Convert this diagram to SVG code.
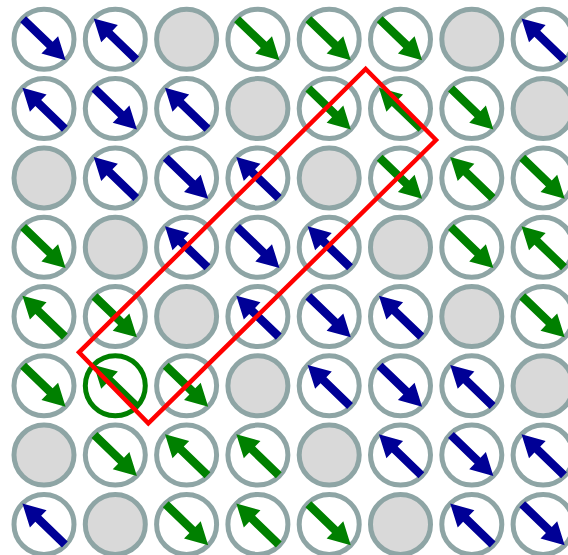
<svg xmlns="http://www.w3.org/2000/svg" xmlns:xlink="http://www.w3.org/1999/xlink" width="568" height="555" viewBox="0 0 568 555">
<style>
.c{fill:#ffffff;stroke:#8ea5a5;stroke-width:5}
.e{fill:#d9d9d9;stroke:#8ea5a5;stroke-width:5}
.h{fill:#ffffff;stroke:#008000;stroke-width:5}
.b{fill:#000096}
.g{fill:#008000}
.r{fill:none;stroke:#ff0000;stroke-width:4.5;stroke-linejoin:miter}
</style>
<defs>
<path id="a" d="M-29,-4.2 L8,-4.2 L8,-12 L30,0 L8,12 L8,4.2 L-29,4.2 Z"/>
</defs>
<rect width="568" height="555" fill="#ffffff"/>
<g id="nodes">
<!-- row 0 -->
<g id="n0_0"><circle class="c" cx="44" cy="39.3" r="30"/><use xlink:href="#a" class="b" transform="translate(44,39.3) rotate(44)"/></g>
<g id="n0_1"><circle class="c" cx="115.3" cy="39.3" r="30"/><use xlink:href="#a" class="b" transform="translate(115.3,39.3) rotate(224)"/></g>
<g id="n0_2"><circle class="e" cx="186.6" cy="39.3" r="30"/></g>
<g id="n0_3"><circle class="c" cx="257.9" cy="39.3" r="30"/><use xlink:href="#a" class="g" transform="translate(257.9,39.3) rotate(44)"/></g>
<g id="n0_4"><circle class="c" cx="329.2" cy="39.3" r="30"/><use xlink:href="#a" class="g" transform="translate(329.2,39.3) rotate(44)"/></g>
<g id="n0_5"><circle class="c" cx="400.5" cy="39.3" r="30"/><use xlink:href="#a" class="g" transform="translate(400.5,39.3) rotate(44)"/></g>
<g id="n0_6"><circle class="e" cx="471.8" cy="39.3" r="30"/></g>
<g id="n0_7"><circle class="c" cx="543.1" cy="39.3" r="30"/><use xlink:href="#a" class="b" transform="translate(543.1,39.3) rotate(224)"/></g>
<!-- row 1 -->
<g id="n1_0"><circle class="c" cx="44" cy="108.6" r="30"/><use xlink:href="#a" class="b" transform="translate(44,108.6) rotate(224)"/></g>
<g id="n1_1"><circle class="c" cx="115.3" cy="108.6" r="30"/><use xlink:href="#a" class="b" transform="translate(115.3,108.6) rotate(44)"/></g>
<g id="n1_2"><circle class="c" cx="186.6" cy="108.6" r="30"/><use xlink:href="#a" class="b" transform="translate(186.6,108.6) rotate(224)"/></g>
<g id="n1_3"><circle class="e" cx="257.9" cy="108.6" r="30"/></g>
<g id="n1_4"><circle class="c" cx="329.2" cy="108.6" r="30"/><use xlink:href="#a" class="g" transform="translate(329.2,108.6) rotate(44)"/></g>
<g id="n1_5"><circle class="c" cx="400.5" cy="108.6" r="30"/><use xlink:href="#a" class="g" transform="translate(400.5,108.6) rotate(224)"/></g>
<g id="n1_6"><circle class="c" cx="471.8" cy="108.6" r="30"/><use xlink:href="#a" class="g" transform="translate(471.8,108.6) rotate(44)"/></g>
<g id="n1_7"><circle class="e" cx="543.1" cy="108.6" r="30"/></g>
<!-- row 2 -->
<g id="n2_0"><circle class="e" cx="44" cy="177.9" r="30"/></g>
<g id="n2_1"><circle class="c" cx="115.3" cy="177.9" r="30"/><use xlink:href="#a" class="b" transform="translate(115.3,177.9) rotate(224)"/></g>
<g id="n2_2"><circle class="c" cx="186.6" cy="177.9" r="30"/><use xlink:href="#a" class="b" transform="translate(186.6,177.9) rotate(44)"/></g>
<g id="n2_3"><circle class="c" cx="257.9" cy="177.9" r="30"/><use xlink:href="#a" class="b" transform="translate(257.9,177.9) rotate(224)"/></g>
<g id="n2_4"><circle class="e" cx="329.2" cy="177.9" r="30"/></g>
<g id="n2_5"><circle class="c" cx="400.5" cy="177.9" r="30"/><use xlink:href="#a" class="g" transform="translate(400.5,177.9) rotate(44)"/></g>
<g id="n2_6"><circle class="c" cx="471.8" cy="177.9" r="30"/><use xlink:href="#a" class="g" transform="translate(471.8,177.9) rotate(224)"/></g>
<g id="n2_7"><circle class="c" cx="543.1" cy="177.9" r="30"/><use xlink:href="#a" class="g" transform="translate(543.1,177.9) rotate(44)"/></g>
<!-- row 3 -->
<g id="n3_0"><circle class="c" cx="44" cy="247.2" r="30"/><use xlink:href="#a" class="g" transform="translate(44,247.2) rotate(44)"/></g>
<g id="n3_1"><circle class="e" cx="115.3" cy="247.2" r="30"/></g>
<g id="n3_2"><circle class="c" cx="186.6" cy="247.2" r="30"/><use xlink:href="#a" class="b" transform="translate(186.6,247.2) rotate(224)"/></g>
<g id="n3_3"><circle class="c" cx="257.9" cy="247.2" r="30"/><use xlink:href="#a" class="b" transform="translate(257.9,247.2) rotate(44)"/></g>
<g id="n3_4"><circle class="c" cx="329.2" cy="247.2" r="30"/><use xlink:href="#a" class="b" transform="translate(329.2,247.2) rotate(224)"/></g>
<g id="n3_5"><circle class="e" cx="400.5" cy="247.2" r="30"/></g>
<g id="n3_6"><circle class="c" cx="471.8" cy="247.2" r="30"/><use xlink:href="#a" class="g" transform="translate(471.8,247.2) rotate(44)"/></g>
<g id="n3_7"><circle class="c" cx="543.1" cy="247.2" r="30"/><use xlink:href="#a" class="g" transform="translate(543.1,247.2) rotate(224)"/></g>
<!-- row 4 -->
<g id="n4_0"><circle class="c" cx="44" cy="316.5" r="30"/><use xlink:href="#a" class="g" transform="translate(44,316.5) rotate(224)"/></g>
<g id="n4_1"><circle class="c" cx="115.3" cy="316.5" r="30"/><use xlink:href="#a" class="g" transform="translate(115.3,316.5) rotate(44)"/></g>
<g id="n4_2"><circle class="e" cx="186.6" cy="316.5" r="30"/></g>
<g id="n4_3"><circle class="c" cx="257.9" cy="316.5" r="30"/><use xlink:href="#a" class="b" transform="translate(257.9,316.5) rotate(224)"/></g>
<g id="n4_4"><circle class="c" cx="329.2" cy="316.5" r="30"/><use xlink:href="#a" class="b" transform="translate(329.2,316.5) rotate(44)"/></g>
<g id="n4_5"><circle class="c" cx="400.5" cy="316.5" r="30"/><use xlink:href="#a" class="b" transform="translate(400.5,316.5) rotate(224)"/></g>
<g id="n4_6"><circle class="e" cx="471.8" cy="316.5" r="30"/></g>
<g id="n4_7"><circle class="c" cx="543.1" cy="316.5" r="30"/><use xlink:href="#a" class="g" transform="translate(543.1,316.5) rotate(44)"/></g>
<!-- row 5 -->
<g id="n5_0"><circle class="c" cx="44" cy="385.8" r="30"/><use xlink:href="#a" class="g" transform="translate(44,385.8) rotate(44)"/></g>
<g id="n5_1"><circle class="h" cx="115.3" cy="385.8" r="30"/><use xlink:href="#a" class="g" transform="translate(115.3,385.8) rotate(224)"/></g>
<g id="n5_2"><circle class="c" cx="186.6" cy="385.8" r="30"/><use xlink:href="#a" class="g" transform="translate(186.6,385.8) rotate(44)"/></g>
<g id="n5_3"><circle class="e" cx="257.9" cy="385.8" r="30"/></g>
<g id="n5_4"><circle class="c" cx="329.2" cy="385.8" r="30"/><use xlink:href="#a" class="b" transform="translate(329.2,385.8) rotate(224)"/></g>
<g id="n5_5"><circle class="c" cx="400.5" cy="385.8" r="30"/><use xlink:href="#a" class="b" transform="translate(400.5,385.8) rotate(44)"/></g>
<g id="n5_6"><circle class="c" cx="471.8" cy="385.8" r="30"/><use xlink:href="#a" class="b" transform="translate(471.8,385.8) rotate(224)"/></g>
<g id="n5_7"><circle class="e" cx="543.1" cy="385.8" r="30"/></g>
<!-- row 6 -->
<g id="n6_0"><circle class="e" cx="44" cy="455.1" r="30"/></g>
<g id="n6_1"><circle class="c" cx="115.3" cy="455.1" r="30"/><use xlink:href="#a" class="g" transform="translate(115.3,455.1) rotate(44)"/></g>
<g id="n6_2"><circle class="c" cx="186.6" cy="455.1" r="30"/><use xlink:href="#a" class="g" transform="translate(186.6,455.1) rotate(224)"/></g>
<g id="n6_3"><circle class="c" cx="257.9" cy="455.1" r="30"/><use xlink:href="#a" class="g" transform="translate(257.9,455.1) rotate(224)"/></g>
<g id="n6_4"><circle class="e" cx="329.2" cy="455.1" r="30"/></g>
<g id="n6_5"><circle class="c" cx="400.5" cy="455.1" r="30"/><use xlink:href="#a" class="b" transform="translate(400.5,455.1) rotate(224)"/></g>
<g id="n6_6"><circle class="c" cx="471.8" cy="455.1" r="30"/><use xlink:href="#a" class="b" transform="translate(471.8,455.1) rotate(44)"/></g>
<g id="n6_7"><circle class="c" cx="543.1" cy="455.1" r="30"/><use xlink:href="#a" class="b" transform="translate(543.1,455.1) rotate(224)"/></g>
<!-- row 7 -->
<g id="n7_0"><circle class="c" cx="44" cy="524.4" r="30"/><use xlink:href="#a" class="b" transform="translate(44,524.4) rotate(224)"/></g>
<g id="n7_1"><circle class="e" cx="115.3" cy="524.4" r="30"/></g>
<g id="n7_2"><circle class="c" cx="186.6" cy="524.4" r="30"/><use xlink:href="#a" class="g" transform="translate(186.6,524.4) rotate(44)"/></g>
<g id="n7_3"><circle class="c" cx="257.9" cy="524.4" r="30"/><use xlink:href="#a" class="g" transform="translate(257.9,524.4) rotate(224)"/></g>
<g id="n7_4"><circle class="c" cx="329.2" cy="524.4" r="30"/><use xlink:href="#a" class="g" transform="translate(329.2,524.4) rotate(44)"/></g>
<g id="n7_5"><circle class="e" cx="400.5" cy="524.4" r="30"/></g>
<g id="n7_6"><circle class="c" cx="471.8" cy="524.4" r="30"/><use xlink:href="#a" class="b" transform="translate(471.8,524.4) rotate(224)"/></g>
<g id="n7_7"><circle class="c" cx="543.1" cy="524.4" r="30"/><use xlink:href="#a" class="b" transform="translate(543.1,524.4) rotate(44)"/></g>
</g>
<g id="connectors">
<polygon class="r" points="365.7,69 436,140 148.3,423.3 79,352.3"/>
</g>
</svg>
